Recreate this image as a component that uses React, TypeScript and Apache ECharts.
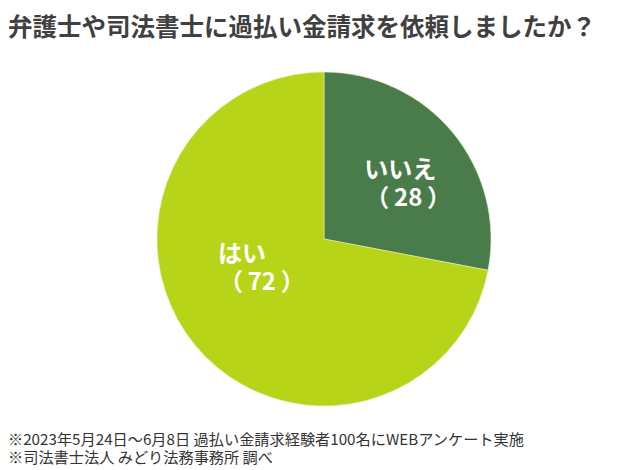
import React, { useEffect, useRef } from "react";
import * as echarts from "echarts";

const titleText = "弁護士や司法書士に過払い金請求を依頼しましたか？";
const categories = ["いいえ", "はい"];
const values = [28, 72];
const colors = ["#4a7b4b", "#b8d418"];
const notes = [
  "※2023年5月24日～6月8日 過払い金請求経験者100名にWEBアンケート実施",
  "※司法書士法人 みどり法務事務所 調べ",
];

export default function App() {
  const ref = useRef<HTMLDivElement>(null);
  useEffect(() => {
    if (!ref.current) return;
    const chart = echarts.init(ref.current, null, { renderer: "svg" });
    const shifts = [
      { dx: 17, dy: -2 },
      { dx: 4, dy: -29 },
    ];
    const tokenStyle = {
      color: "#ffffff",
      fontFamily: "Noto Sans CJK JP",
      fontSize: 24,
      fontWeight: "bold" as const,
      lineHeight: 28,
      align: "left" as const,
    };
    chart.setOption({
      animation: false,
      backgroundColor: "#ffffff",
      title: {
        text: titleText,
        left: 8,
        top: 13,
        padding: 0,
        textStyle: {
          fontFamily: "Noto Sans CJK JP",
          fontSize: 24.5,
          fontWeight: "bold",
          color: "#404040",
        },
      },
      graphic: notes.map((t, i) => ({
        type: "text",
        left: 8,
        top: 429 + i * 18,
        style: {
          text: t,
          fontFamily: "Noto Sans CJK JP",
          fontSize: 15.2,
          lineHeight: 17,
          fill: "#333333",
        },
      })),
      series: [
        {
          type: "pie",
          center: [324, 239],
          radius: [0, 167],
          startAngle: 90,
          clockwise: true,
          silent: true,
          itemStyle: { borderColor: "#e4eec0", borderWidth: 0.6 },
          label: {
            show: true,
            position: "inside",
            formatter: (p: any) =>
              `{a|${p.name}}\n{b|（\u2009${p.value}\u2009）}`,
            rich: {
              a: { ...tokenStyle },
              b: { ...tokenStyle, padding: [0, 0, 0, 1] },
            },
            ...tokenStyle,
          },
          labelLine: { show: false },
          labelLayout: (params: any) => shifts[params.dataIndex],
          data: categories.map((c, i) => ({
            name: c,
            value: values[i],
            itemStyle: { color: colors[i] },
          })),
        },
      ],
    });
    return () => chart.dispose();
  }, []);
  return (
    <div
      ref={ref}
      style={{ position: "absolute", left: 0, top: 0, width: 640, height: 470 }}
    />
  );
}
